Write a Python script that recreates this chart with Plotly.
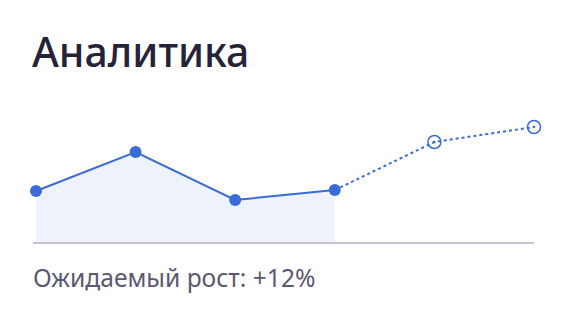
import plotly.graph_objects as go

# Data
periods = [0, 1, 2, 3, 4, 5]
actual_x = [0, 1, 2, 3]
actual_y = [51, 90, 42, 52]
forecast_x = [3, 4, 5]
forecast_y = [52, 100, 115]
title_text = "Аналитика"
subtitle_text = "Ожидаемый рост: +12%"

BLUE = "#3b6bd6"
FILL = "#eef2fb"
AXIS = "#c5c3d6"

fig = go.Figure()

fig.add_trace(go.Scatter(
    x=actual_x, y=actual_y, mode="lines+markers",
    line=dict(color=BLUE, width=2),
    marker=dict(color=BLUE, size=12),
    fill="tozeroy", fillcolor=FILL,
    cliponaxis=False, hoverinfo="skip", showlegend=False,
))

fig.add_trace(go.Scatter(
    x=forecast_x, y=forecast_y, mode="lines",
    line=dict(color=BLUE, width=2, dash="dot"),
    cliponaxis=False, hoverinfo="skip", showlegend=False,
))

fig.add_trace(go.Scatter(
    x=forecast_x[1:], y=forecast_y[1:], mode="markers",
    marker=dict(color=BLUE, size=13, symbol="circle-open-dot",
                line=dict(color=BLUE, width=1.5)),
    cliponaxis=False, hoverinfo="skip", showlegend=False,
))

fig.update_xaxes(range=[-0.03, 5], showgrid=False, zeroline=False,
                 showticklabels=False, showline=True, linecolor=AXIS,
                 linewidth=2, ticks="")
fig.update_yaxes(range=[0, 130], showgrid=False, zeroline=False,
                 showticklabels=False, showline=False, ticks="")

fig.add_annotation(text=title_text, xref="paper", yref="paper",
                   x=-0.006, y=1.47, xanchor="left", yanchor="middle",
                   showarrow=False,
                   font=dict(family="Noto Sans", size=41, weight=500, color="#25223a"))
fig.add_annotation(text=subtitle_text, xref="paper", yref="paper",
                   x=-0.004, y=-0.272, xanchor="left", yanchor="middle",
                   showarrow=False,
                   font=dict(family="Noto Sans", size=24.6, weight=400, color="#5b5873"))

fig.update_layout(
    width=566, height=324,
    margin=dict(l=33, r=32, t=112, b=82),
    paper_bgcolor="white", plot_bgcolor="white",
)

fig.write_html("out.html")
